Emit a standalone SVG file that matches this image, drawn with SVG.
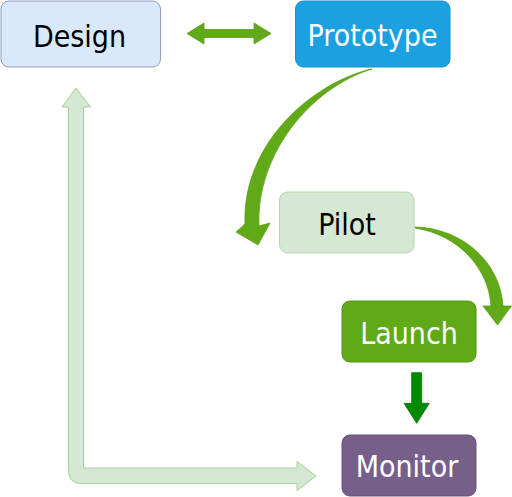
<svg xmlns="http://www.w3.org/2000/svg" width="512" height="497" viewBox="0 0 512 497">
<style>
.lbl{font-family:"DejaVu Sans Condensed","DejaVu Sans",sans-serif;font-size:30px;text-anchor:middle}
.dark{fill:#000000}
.light{fill:#ffffff}
</style>
<rect width="512" height="497" fill="#ffffff"/>
<g id="connectors">
  <polygon id="design-prototype" points="187,33.5 204,23 204,29.5 254,29.5 254,23 271,33.5 254,44 254,37.5 204,37.5 204,44" fill="#60a917" stroke="#5a9f15" stroke-width="0.8"/>
  <path id="prototype-pilot" d="M371,69 C310,84 242,145 245,224 L236,232 L258,245 L270,223 L259,226 C256,155 310,88 372,69 Z" fill="#60a917" stroke="#5a9f15" stroke-width="0.8"/>
  <path id="pilot-launch" d="M415,227 C460,228 500,260 503,306 L511.5,306 L497.5,325 L483,306 L491,306 C489,270 460,235 415,228 Z" fill="#60a917" stroke="#5a9f15" stroke-width="0.8"/>
  <polygon id="launch-monitor" points="411.7,372.7 421.7,372.7 421.7,403.3 429.3,403.3 416.7,423.3 404,403.3 411.7,403.3" fill="#008a00" stroke="#007a00" stroke-width="0.8"/>
  <path id="monitor-design" d="M76,88 L90.5,107 L83.5,107 L83.5,468 L297,468 L297,461.5 L316,476 L297,490.5 L297,483.5 L81.5,483.5 Q68.5,483.5 68.5,470.5 L68.5,107 L62,107 Z" fill="#d5e8d4" stroke="#a8cf97" stroke-width="1"/>
</g>
<g id="design">
  <rect x="1" y="1" width="159.5" height="66" rx="8" fill="#dae8fc" stroke="#8f9dbd" stroke-width="1"/>
  <text class="lbl dark" x="79.5" y="46.5">Design</text>
</g>
<g id="prototype">
  <rect x="295.5" y="1" width="154.5" height="66" rx="8" fill="#1ba1e2" stroke="#1793d0" stroke-width="1"/>
  <text class="lbl light" x="372.5" y="46">Prototype</text>
</g>
<g id="pilot">
  <rect x="279.5" y="192" width="134.5" height="61" rx="8" fill="#d5e8d4" stroke="#b9d8ab" stroke-width="1"/>
  <text class="lbl dark" x="347" y="235">Pilot</text>
</g>
<g id="launch">
  <rect x="342" y="301" width="134" height="61" rx="8" fill="#60a917" stroke="#4f9a10" stroke-width="1"/>
  <text class="lbl light" x="409" y="344">Launch</text>
</g>
<g id="monitor">
  <rect x="342" y="435" width="134" height="61" rx="8" fill="#76608a" stroke="#6a557d" stroke-width="1"/>
  <text class="lbl light" x="407" y="476.5">Monitor</text>
</g>
</svg>
